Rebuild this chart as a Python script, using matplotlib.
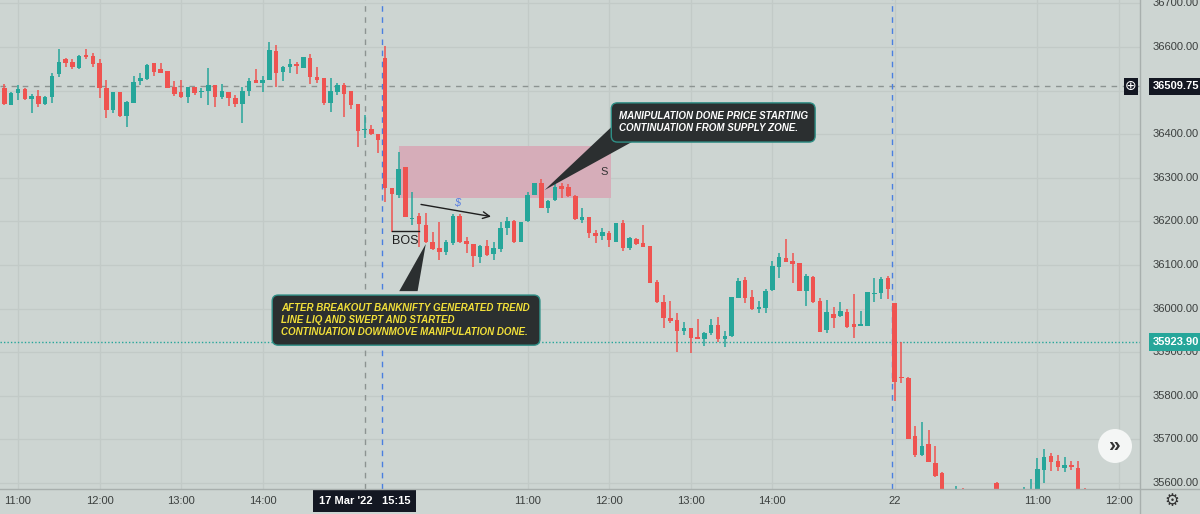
import matplotlib
matplotlib.use("Agg")
import matplotlib.pyplot as plt
import matplotlib.patches as mpatches
import matplotlib.transforms as mtransforms
from matplotlib.lines import Line2D
import numpy as np
import pandas as pd

plt.rcParams['font.family'] = ['Liberation Sans', 'DejaVu Sans']

# BANKNIFTY 5 min candles, rows are [open, high, low, close]
mar17 = [
    [36506, 36515, 36467, 36469], [36467, 36497, 36467, 36494], [36494, 36513, 36478, 36504],
    [36504, 36506, 36478, 36481], [36481, 36492, 36449, 36488], [36488, 36501, 36462, 36469],
    [36469, 36487, 36467, 36485], [36485, 36540, 36472, 36533], [36538, 36595, 36531, 36566],
    [36572, 36575, 36554, 36563], [36566, 36572, 36550, 36554], [36552, 36582, 36550, 36579],
    [36582, 36595, 36572, 36577], [36579, 36586, 36554, 36561], [36563, 36572, 36483, 36506],
    [36506, 36524, 36437, 36455], [36455, 36497, 36449, 36497], [36497, 36497, 36440, 36442],
    [36442, 36476, 36416, 36474], [36472, 36533, 36472, 36520], [36522, 36540, 36513, 36529],
    [36527, 36561, 36524, 36559], [36563, 36564, 36533, 36543], [36550, 36563, 36540, 36540],
    [36545, 36545, 36506, 36506], [36508, 36522, 36488, 36492], [36497, 36524, 36483, 36485],
    [36485, 36508, 36472, 36508], [36508, 36508, 36490, 36494], [36497, 36506, 36483, 36499],
    [36499, 36552, 36467, 36513], [36513, 36513, 36462, 36485], [36485, 36515, 36481, 36499],
    [36497, 36497, 36465, 36483], [36483, 36490, 36462, 36469], [36469, 36508, 36426, 36499],
    [36499, 36529, 36488, 36522], [36524, 36550, 36517, 36517], [36517, 36533, 36497, 36524],
    [36524, 36611, 36524, 36593], [36591, 36605, 36508, 36540], [36543, 36556, 36522, 36554],
    [36554, 36572, 36540, 36561], [36561, 36566, 36538, 36556], [36552, 36577, 36552, 36577],
    [36575, 36584, 36515, 36531], [36531, 36554, 36517, 36524], [36529, 36529, 36467, 36472],
    [36472, 36529, 36451, 36499], [36497, 36517, 36490, 36513], [36513, 36517, 36439, 36492],
    [36499, 36499, 36458, 36467], [36469, 36469, 36371, 36407], [36410, 36444, 36391, 36412],
    [36412, 36421, 36398, 36400], [36400, 36400, 36357, 36387],
]
mar21 = [
    [36575, 36602, 36244, 36277], [36277, 36277, 36176, 36263], [36260, 36359, 36254, 36320],
    [36325, 36325, 36210, 36210], [36205, 36267, 36192, 36208], [36212, 36219, 36141, 36194],
    [36192, 36219, 36150, 36153], [36153, 36176, 36134, 36137], [36139, 36199, 36111, 36130],
    [36130, 36157, 36123, 36153], [36150, 36217, 36146, 36212], [36212, 36217, 36150, 36153],
    [36155, 36164, 36127, 36148], [36148, 36148, 36095, 36121], [36118, 36146, 36105, 36143],
    [36143, 36157, 36121, 36123], [36125, 36153, 36111, 36139], [36137, 36199, 36130, 36185],
    [36185, 36210, 36169, 36201], [36201, 36203, 36150, 36153], [36153, 36199, 36153, 36199],
    [36201, 36267, 36199, 36260], [36260, 36288, 36260, 36288], [36288, 36297, 36231, 36231],
    [36231, 36249, 36219, 36247], [36249, 36288, 36247, 36279], [36281, 36288, 36254, 36274],
    [36279, 36286, 36256, 36258], [36258, 36260, 36203, 36205], [36203, 36231, 36196, 36210],
    [36210, 36210, 36162, 36173], [36173, 36180, 36150, 36166], [36166, 36185, 36157, 36176],
    [36173, 36178, 36141, 36157], [36153, 36196, 36153, 36196], [36196, 36203, 36132, 36139],
    [36139, 36164, 36134, 36162], [36160, 36162, 36146, 36148], [36150, 36192, 36141, 36141],
    [36143, 36143, 36059, 36059], [36061, 36065, 36013, 36015], [36015, 36031, 35955, 35978],
    [35978, 36017, 35967, 35971], [35974, 35990, 35900, 35949], [35949, 35969, 35939, 35955],
    [35955, 35955, 35898, 35932], [35935, 35976, 35930, 35930], [35930, 35946, 35914, 35944],
    [35944, 35976, 35939, 35962], [35962, 35981, 35923, 35930], [35930, 35949, 35912, 35937],
    [35937, 36026, 35935, 36026], [36024, 36070, 36024, 36063], [36065, 36072, 36013, 36024],
    [36026, 36043, 35997, 35999], [35999, 36017, 35990, 36004], [36001, 36045, 35990, 36040],
    [36043, 36109, 36040, 36098], [36095, 36127, 36070, 36118], [36116, 36160, 36107, 36107],
    [36109, 36127, 36059, 36102], [36105, 36105, 36040, 36040], [36040, 36079, 36006, 36075],
    [36072, 36075, 36013, 36015], [36017, 36024, 35946, 35946], [35951, 36020, 35944, 35992],
    [35987, 36004, 35955, 35978], [35983, 36015, 35981, 35994], [35992, 35999, 35955, 35958],
    [35965, 36033, 35932, 35958], [35960, 35994, 35960, 35965], [35960, 36038, 35960, 36038],
    [36033, 36070, 36015, 36036], [36036, 36072, 36022, 36068], [36070, 36075, 36022, 36045],
]
mar22 = [
    [36013, 36013, 35788, 35832], [35843, 35923, 35829, 35841], [35841, 35843, 35701, 35701],
    [35708, 35731, 35660, 35664], [35664, 35740, 35662, 35685], [35689, 35721, 35648, 35648],
    [35646, 35685, 35614, 35616], [35623, 35625, 35560, 35570], [35570, 35580, 35530, 35545],
    [35545, 35592, 35535, 35575], [35575, 35588, 35540, 35550], [35550, 35565, 35510, 35520],
    [35520, 35560, 35505, 35550], [35550, 35575, 35535, 35565], [35555, 35585, 35545, 35580],
    [35600, 35603, 35560, 35570], [35570, 35585, 35555, 35580], [35580, 35585, 35550, 35560],
    [35560, 35580, 35545, 35575], [35575, 35590, 35560, 35585], [35580, 35609, 35570, 35585],
    [35585, 35657, 35575, 35632], [35630, 35678, 35600, 35660], [35662, 35669, 35628, 35648],
    [35650, 35664, 35628, 35637], [35634, 35660, 35625, 35641], [35641, 35650, 35630, 35637],
    [35634, 35650, 35560, 35575], [35575, 35588, 35540, 35555],
]

# session windows (the last one runs past the data so the 12:00 slot exists)
sessions = [('2022-03-17 10:50', '2022-03-17 15:25'),
            ('2022-03-21 09:15', '2022-03-21 15:25'),
            ('2022-03-22 09:15', '2022-03-22 12:10')]

# 36500 sits under the crosshair price tag, so it is not printed
price_ticks = np.arange(35600, 36701, 100)
price_labels = [p for p in price_ticks if p != 36500]
crosshair_time = pd.Timestamp('2022-03-17 15:15')
crosshair_price = 36509.75
last_price = 35923.90

# supply zone drawn on the chart (bar index, price)
zone_bars = (58.1, 89.3)
zone_prices = (36254, 36373)

BG = '#cdd5d2'
GRID = '#c2cac7'
RED = '#ef5350'
GREEN = '#26a69a'
DARK = '#131722'

bars = np.array(mar17 + mar21 + mar22, dtype=float)
o, h, l, c = bars.T
x = np.arange(len(bars))
colors = np.where(c >= o, GREEN, RED)

times = pd.DatetimeIndex(np.concatenate([pd.date_range(a, b, freq='5min').values for a, b in sessions]))
day_start = [i for i in range(1, len(times)) if times[i].date() != times[i - 1].date()]

tick_pos, tick_lab = [], []
for i, t in enumerate(times):
    if t.minute == 0 and 11 <= t.hour <= 14:
        tick_pos.append(i)
        tick_lab.append(t.strftime('%H:%M'))
    elif i in day_start and t.day == 22:
        tick_pos.append(i)
        tick_lab.append(str(t.day))
cross_i = int(np.where(times == crosshair_time)[0][0])

fig = plt.figure(figsize=(12, 5.14), dpi=100)
fig.patch.set_facecolor(BG)
ax = fig.add_axes([0, 25 / 514, 1140 / 1200, 489 / 514])
ax.set_facecolor(BG)
ax.set_xlim(-0.65, 167.1)
ax.set_ylim(35586, 36708)
ax.set_xticks([])
ax.set_yticks([])
for s in ax.spines.values():
    s.set_visible(False)

for p in price_ticks:
    ax.axhline(p, color=GRID, lw=0.9, zorder=0)
for tp in tick_pos:
    ax.axvline(tp, color=GRID, lw=0.9, zorder=0)

# zone
ax.add_patch(mpatches.Rectangle((zone_bars[0], zone_prices[0]), zone_bars[1] - zone_bars[0],
                                zone_prices[1] - zone_prices[0], fc='#d6adb9', ec='none', zorder=1))

# crosshair / separators / last price
ax.axhline(crosshair_price, color='#8c9391', lw=1, ls=(0, (4, 4)), zorder=2)
ax.axvline(cross_i, color='#8c9391', lw=1, ls=(0, (4, 4)), zorder=2)
for d in day_start:
    ax.axvline(d - 0.4, color='#4a7fe0', lw=1, ls=(0, (4, 4)), zorder=2)
ax.axhline(last_price, color=GREEN, lw=1, ls=(0, (1, 1.5)), zorder=2)

# candles
ax.vlines(x, l, h, colors=colors, lw=1.1, zorder=3)
ax.bar(x, np.maximum(np.abs(c - o), 2.5), bottom=np.minimum(o, c), width=0.66,
       color=colors, linewidth=0, zorder=4)

# annotations
ax.plot([57.0, 61.0], [36178, 36178], color='#1e1e1e', lw=1, zorder=5)
ax.text(59.0, 36155, 'BOS', ha='center', va='center', fontsize=9, color='#1e1e1e', zorder=5)
ax.annotate('', xy=(72.0, 36210), xytext=(60.9, 36240),
            arrowprops=dict(arrowstyle='->', color='#1e1e1e', lw=1, mutation_scale=12), zorder=5)
ax.text(66.6, 36242, '$', ha='center', va='center', fontsize=8, color='#5b7fe0',
        style='italic', zorder=5)
ax.text(88.2, 36313, 'S', ha='center', va='center', fontsize=8, color='#333333', zorder=5)

box_kw = dict(boxstyle='round,pad=0,rounding_size=0.9', mutation_aspect=15.6,
              fc='#2b2f30', ec='#2f8f86', lw=1, zorder=6)
txt_kw = dict(fontweight='bold', style='italic', fontsize=7.0, linespacing=1.25, zorder=7)

ax.add_patch(mpatches.Polygon([[58.1, 36040], [60.8, 36040], [62.0, 36148]],
                              closed=True, fc='#2b2f30', ec='none', zorder=6))
ax.add_patch(mpatches.FancyBboxPatch((39.4, 35916), 39.4, 115, **box_kw))
ax.text(40.7, 35974, 'AFTER BREAKOUT BANKNIFTY GENERATED TREND\nLINE LIQ AND SWEPT AND STARTED\n'
        'CONTINUATION DOWNMOVE MANIPULATION DONE.', ha='left', va='center', color='#f2e03a', **txt_kw)

ax.add_patch(mpatches.Polygon([[79.5, 36272], [89.9, 36425], [93.0, 36388]],
                              closed=True, fc='#2b2f30', ec='none', zorder=6))
ax.add_patch(mpatches.FancyBboxPatch((89.3, 36382), 30.0, 90, **box_kw))
ax.text(90.5, 36428, 'MANIPULATION DONE PRICE STARTING\nCONTINUATION FROM SUPPLY ZONE.',
        ha='left', va='center', color='white', **txt_kw)

# price scale
yt = mtransforms.blended_transform_factory(ax.transAxes, ax.transData)
for p in price_labels:
    ax.text(1.0114, p, f'{p:.2f}', transform=yt, ha='left', va='center', fontsize=8,
            color='#3b3f3e', clip_on=False)
ax.text(1.0114, crosshair_price, f'{crosshair_price:.2f}', transform=yt, ha='left', va='center',
        fontsize=8, color='white', fontweight='bold', clip_on=False, zorder=8,
        bbox=dict(boxstyle='square,pad=0.35', fc=DARK, ec='none'))
ax.text(0.9921, crosshair_price, '\u2295', transform=yt, ha='center', va='center', fontsize=10,
        color='white', family='DejaVu Sans', clip_on=False, zorder=8,
        bbox=dict(boxstyle='square,pad=0.12', fc=DARK, ec='none'))
ax.text(1.0114, last_price, f'{last_price:.2f}', transform=yt, ha='left', va='center',
        fontsize=8, color='white', fontweight='bold', clip_on=False, zorder=8,
        bbox=dict(boxstyle='square,pad=0.35', fc=GREEN, ec='none'))

# time scale
xt = mtransforms.blended_transform_factory(ax.transData, ax.transAxes)
for tp, lab in zip(tick_pos, tick_lab):
    ax.text(tp, -0.025, lab, transform=xt, ha='center', va='center', fontsize=8,
            color='#3b3f3e', clip_on=False)
ax.text(cross_i, -0.025, "17 Mar '22   15:15", transform=xt, ha='center', va='center',
        fontsize=8, color='white', fontweight='bold', clip_on=False, zorder=8,
        bbox=dict(boxstyle='square,pad=0.55', fc=DARK, ec='none'))

fig.add_artist(Line2D([0, 1], [25 / 514, 25 / 514], color='#a8afad', lw=1))
fig.add_artist(Line2D([1140 / 1200, 1140 / 1200], [0, 1], color='#a8afad', lw=1))
fig.add_artist(mpatches.Ellipse((1115 / 1200, 68 / 514), 34 / 1200, 34 / 514,
                                fc='#f4f6f5', ec='none', zorder=9))
fig.text(1115 / 1200, 68 / 514, '\u00bb', ha='center', va='center', fontsize=15,
         color='#333333', fontweight='bold', zorder=10)
fig.text(1172 / 1200, 13 / 514, '\u2699', ha='center', va='center', fontsize=12,
         color='#333333', family='DejaVu Sans')

fig.savefig('out.png', dpi=100, facecolor=BG)
